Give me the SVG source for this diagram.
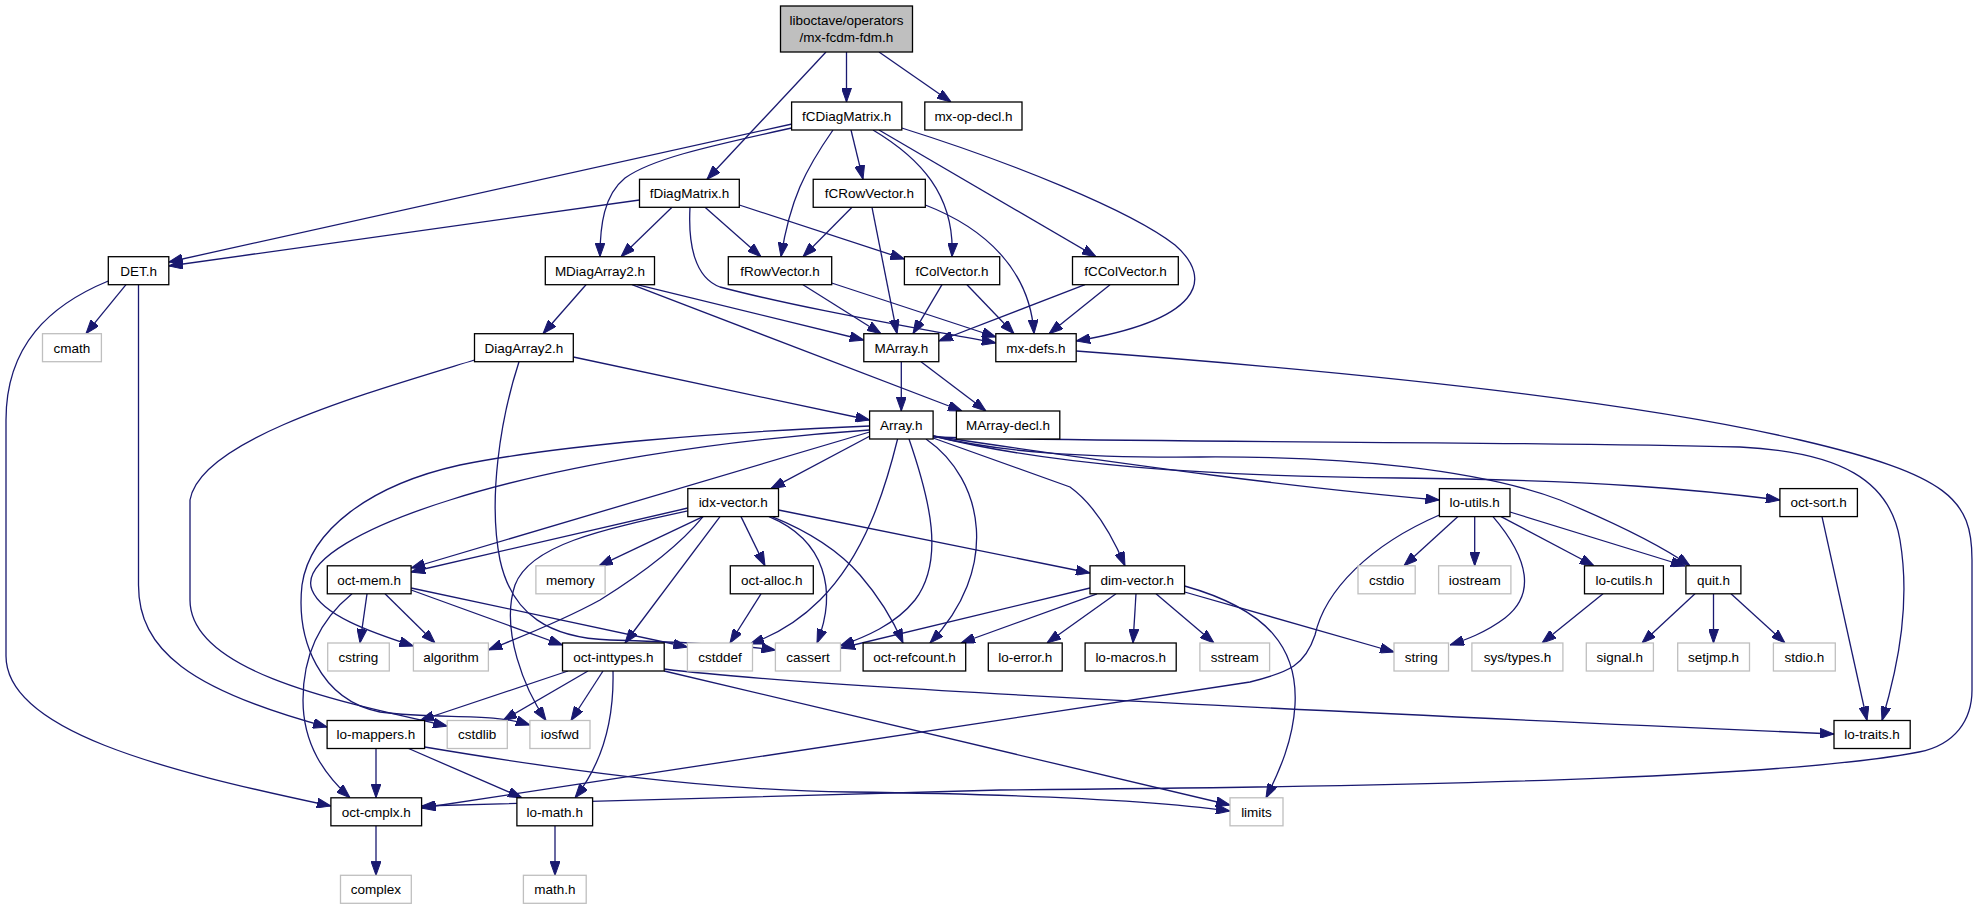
<svg xmlns="http://www.w3.org/2000/svg" width="1979" height="909" viewBox="0 0 1979 909">
<style>
.n rect{fill:#fff;stroke:#000;stroke-width:1.3}
.s rect{fill:#fff;stroke:#bfbfbf;stroke-width:1.3}
#root rect{fill:#bfbfbf}
text{font-family:"Liberation Sans",Arial,Helvetica,sans-serif;font-size:13.5px;text-anchor:middle;fill:#000}
#edges path{fill:none;stroke:#191970;stroke-width:1.3;marker-end:url(#a)}
</style>
<defs>
<marker id="a" markerUnits="userSpaceOnUse" markerWidth="14" markerHeight="10" viewBox="0 0 14 10" refX="14" refY="5" orient="auto">
<path d="M0,0 L14,5 L0,10 z" fill="#191970" stroke="#191970" stroke-width="1"/>
</marker>
</defs>
<rect width="1979" height="909" fill="#fff"/>
<g id="edges">
<path d="M826,52 L707,179.3"/>
<path d="M846.5,52 L846.5,102"/>
<path d="M879,52 L951,102"/>
<path d="M792,124 L168.8,262"/>
<path d="M791.6,128 C 700,148 650,160 625,178 C 604,195 600,225 600,256.7"/>
<path d="M833,130 C 805,170 790,200 781,256.7"/>
<path d="M851,130 L863,179.3"/>
<path d="M873,130 C 920,158 955,195 952,256.7"/>
<path d="M879,130 L1096,256.7"/>
<path d="M901.8,128 C 1010,162 1130,210 1175,245 C 1215,280 1200,320 1076.2,341"/>
<path d="M639.5,200 L168.8,266"/>
<path d="M672,207.3 L621,256.7"/>
<path d="M705,207.3 L761,256.7"/>
<path d="M739.3,205 L904.4,259"/>
<path d="M690,207.3 C 688,245 695,278 720,287 C 800,308 900,325 995.8,343"/>
<path d="M852,207.3 L803,256.7"/>
<path d="M872,207.3 L897,333.7"/>
<path d="M925.3,205 C 985,228 1030,270 1034,333.7"/>
<path d="M803,284.7 L881,333.7"/>
<path d="M831.7,283 L996,337"/>
<path d="M942,284.7 L913,333.7"/>
<path d="M967,284.7 L1014,333.7"/>
<path d="M1085,284.7 L938.8,341"/>
<path d="M1110,284.7 L1049,333.7"/>
<path d="M586,284.7 L543,333.7"/>
<path d="M637,284.7 L863.8,340"/>
<path d="M632,284.7 L962,411"/>
<path d="M573.3,357 L869.6,420"/>
<path d="M474.5,360 C 360,395 200,440 190,500 L190,600 C 190,670 330,700 447.2,726"/>
<path d="M519,361.7 C 500,420 488,500 500,560 C 512,615 550,638 610,640 C 680,642 740,645 775.4,650"/>
<path d="M126,284.7 L86,333.7"/>
<path d="M138.5,284.7 L138.5,585 C 138.5,650 190,690 327.1,727"/>
<path d="M108.3,281 C 50,305 6,345 6,420 L6,656 C 6,730 160,770 330.9,806"/>
<path d="M901.3,361.7 L901.3,411"/>
<path d="M921,361.7 L986,411"/>
<path d="M870,436 L771,488.6"/>
<path d="M869.6,432 L411.1,568"/>
<path d="M869.6,430 C 720,440 560,465 450,500 C 370,525 300,560 312,590 C 322,615 370,632 413.4,646"/>
<path d="M869.6,426 C 720,432 560,445 460,465 C 370,485 310,530 302,585 C 296,640 320,700 380,712 C 440,720 490,712 529.9,725"/>
<path d="M897.6,439 C 885,490 865,555 820,600 C 795,625 770,637 750,644"/>
<path d="M909,439 C 930,500 945,560 915,600 C 895,625 865,637 840,646"/>
<path d="M926,439 C 985,480 1000,570 930,643"/>
<path d="M933.1,438 L1070,487 C 1095,505 1112,535 1125,565.8"/>
<path d="M933.1,436 C 1150,468 1300,488 1439.4,500"/>
<path d="M933.1,436 C 1050,465 1200,476 1400,478 C 1600,480 1700,490 1779.9,500"/>
<path d="M933.1,436 C 1000,452 1080,458 1200,457 C 1350,456 1480,470 1560,500 C 1620,525 1660,545 1690,565.8"/>
<path d="M933.1,437 C 1150,443 1500,441 1740,447 C 1840,452 1890,480 1900,540 C 1910,600 1900,660 1882,720.5"/>
<path d="M687.8,508 L411.1,572"/>
<path d="M687.8,511 C 600,530 530,545 515,585 C 500,630 525,690 546,720.5"/>
<path d="M703,516.6 C 680,545 640,575 600,600 C 560,622 520,637 488.4,650"/>
<path d="M703,516.6 L599,565.8"/>
<path d="M720,516.6 L625,643"/>
<path d="M741,516.6 L765,565.8"/>
<path d="M769,516.6 C 825,540 838,590 817,643"/>
<path d="M772,516.6 C 810,532 840,552 860,575 C 880,598 893,620 903,643"/>
<path d="M778.5,510 L1090,573"/>
<path d="M1458,516.6 L1404,565.8"/>
<path d="M1474.7,516.6 L1474.7,565.8"/>
<path d="M1493,516.6 C 1530,560 1535,595 1505,618 C 1485,633 1465,640 1450,645"/>
<path d="M1501,516.6 L1594,565.8"/>
<path d="M1510,512 L1685,566"/>
<path d="M1439.4,515 C 1370,545 1325,590 1315,635 C 1305,665 1290,672 1250,682 L421.6,808"/>
<path d="M1090,588 L841,648"/>
<path d="M1097,593.8 L961,643"/>
<path d="M1116,593.8 L1047,643"/>
<path d="M1136,593.8 L1133,643"/>
<path d="M1156,593.8 L1214,643"/>
<path d="M1184.6,592 L1394,652"/>
<path d="M1184.6,586 C 1270,610 1298,650 1295,705 C 1293,740 1280,770 1266,797.8"/>
<path d="M367,593.8 L360,643"/>
<path d="M385,593.8 L435,643"/>
<path d="M411.1,590 L562.5,645"/>
<path d="M411.1,588 L687.4,647"/>
<path d="M352,593.8 C 320,620 303,655 303,700 C 303,745 325,775 350,797.8"/>
<path d="M761,593.8 L730,643"/>
<path d="M1603,593.8 L1542,643"/>
<path d="M1695,593.8 L1642,643"/>
<path d="M1713.5,593.8 L1713.5,643"/>
<path d="M1731,593.8 L1785,643"/>
<path d="M1822,516.6 L1867,720.5"/>
<path d="M568,671 L420,720.5"/>
<path d="M588,671 L503,720.5"/>
<path d="M603,671 L571,720.5"/>
<path d="M613,671 C 614,715 605,760 575,797.8"/>
<path d="M664.2,671 L1230,805"/>
<path d="M664.2,669 C 800,686 1200,706 1834,734"/>
<path d="M376,748.5 L376,797.8"/>
<path d="M408.6,748.5 L522,797.8"/>
<path d="M424.6,747 C 550,768 700,790 850,792 C 1000,794 1150,800 1230,811"/>
<path d="M376,826 L376,875.3"/>
<path d="M555,826 L555,875.3"/>
<path d="M1076.2,351 C 1400,375 1650,405 1800,440 C 1950,475 1972,500 1972,560 L1972,690 C 1972,720 1955,745 1919,752 C 1800,775 1500,786 1000,790 L421.6,806"/>
</g>
<g id="root" class="n"><rect x="780.5" y="6" width="132" height="46"/><text x="846.5" y="25">liboctave/operators</text><text x="846.5" y="41.5">/mx-fcdm-fdm.h</text></g>
<g id="fCDiagMatrix" class="n"><rect x="791.6" y="102" width="110.2" height="28"/><text x="846.7" y="120.8">fCDiagMatrix.h</text></g>
<g id="mx-op-decl" class="n"><rect x="924.8" y="102" width="97.2" height="28"/><text x="973.4" y="120.8">mx-op-decl.h</text></g>
<g id="fDiagMatrix" class="n"><rect x="639.5" y="179.3" width="99.8" height="28"/><text x="689.4" y="198.1">fDiagMatrix.h</text></g>
<g id="fCRowVector" class="n"><rect x="813.2" y="179.3" width="112.1" height="28"/><text x="869.3" y="198.1">fCRowVector.h</text></g>
<g id="DET" class="n"><rect x="108.3" y="256.7" width="60.5" height="28"/><text x="138.6" y="275.5">DET.h</text></g>
<g id="MDiagArray2" class="n"><rect x="545.3" y="256.7" width="109.2" height="28"/><text x="599.9" y="275.5">MDiagArray2.h</text></g>
<g id="fRowVector" class="n"><rect x="728.3" y="256.7" width="103.4" height="28"/><text x="780" y="275.5">fRowVector.h</text></g>
<g id="fColVector" class="n"><rect x="904.4" y="256.7" width="95.3" height="28"/><text x="952" y="275.5">fColVector.h</text></g>
<g id="fCColVector" class="n"><rect x="1072.5" y="256.7" width="105.8" height="28"/><text x="1125.4" y="275.5">fCColVector.h</text></g>
<g id="cmath" class="s"><rect x="42.5" y="333.7" width="58.9" height="28"/><text x="72" y="352.5">cmath</text></g>
<g id="DiagArray2" class="n"><rect x="474.5" y="333.7" width="98.8" height="28"/><text x="523.9" y="352.5">DiagArray2.h</text></g>
<g id="MArray" class="n"><rect x="863.8" y="333.7" width="75" height="28"/><text x="901.3" y="352.5">MArray.h</text></g>
<g id="mx-defs" class="n"><rect x="995.8" y="333.7" width="80.4" height="28"/><text x="1036" y="352.5">mx-defs.h</text></g>
<g id="Array" class="n"><rect x="869.6" y="411" width="63.5" height="28"/><text x="901.35" y="429.8">Array.h</text></g>
<g id="MArray-decl" class="n"><rect x="956.4" y="411" width="103.4" height="28"/><text x="1008.1" y="429.8">MArray-decl.h</text></g>
<g id="idx-vector" class="n"><rect x="687.8" y="488.6" width="90.7" height="28"/><text x="733.15" y="507.4">idx-vector.h</text></g>
<g id="lo-utils" class="n"><rect x="1439.4" y="488.6" width="70.6" height="28"/><text x="1474.7" y="507.4">lo-utils.h</text></g>
<g id="oct-sort" class="n"><rect x="1779.9" y="488.6" width="77.5" height="28"/><text x="1818.65" y="507.4">oct-sort.h</text></g>
<g id="oct-mem" class="n"><rect x="327.3" y="565.8" width="83.8" height="28"/><text x="369.2" y="584.6">oct-mem.h</text></g>
<g id="memory" class="s"><rect x="535.9" y="565.8" width="69.2" height="28"/><text x="570.5" y="584.6">memory</text></g>
<g id="oct-alloc" class="n"><rect x="730.3" y="565.8" width="83" height="28"/><text x="771.8" y="584.6">oct-alloc.h</text></g>
<g id="dim-vector" class="n"><rect x="1090" y="565.8" width="94.6" height="28"/><text x="1137.3" y="584.6">dim-vector.h</text></g>
<g id="cstdio" class="s"><rect x="1358" y="565.8" width="57.2" height="28"/><text x="1386.6" y="584.6">cstdio</text></g>
<g id="iostream" class="s"><rect x="1438.6" y="565.8" width="72.3" height="28"/><text x="1474.75" y="584.6">iostream</text></g>
<g id="lo-cutils" class="n"><rect x="1584.5" y="565.8" width="78.9" height="28"/><text x="1623.95" y="584.6">lo-cutils.h</text></g>
<g id="quit" class="n"><rect x="1685.9" y="565.8" width="55" height="28"/><text x="1713.4" y="584.6">quit.h</text></g>
<g id="cstring" class="s"><rect x="327.7" y="643" width="61.6" height="28"/><text x="358.5" y="661.8">cstring</text></g>
<g id="algorithm" class="s"><rect x="413.4" y="643" width="75" height="28"/><text x="450.9" y="661.8">algorithm</text></g>
<g id="oct-inttypes" class="n"><rect x="562.5" y="643" width="101.7" height="28"/><text x="613.35" y="661.8">oct-inttypes.h</text></g>
<g id="cstddef" class="s"><rect x="687.4" y="643" width="65.1" height="28"/><text x="719.95" y="661.8">cstddef</text></g>
<g id="cassert" class="s"><rect x="775.4" y="643" width="65.1" height="28"/><text x="807.95" y="661.8">cassert</text></g>
<g id="oct-refcount" class="n"><rect x="863.1" y="643" width="102.6" height="28"/><text x="914.4" y="661.8">oct-refcount.h</text></g>
<g id="lo-error" class="n"><rect x="988.3" y="643" width="73.9" height="28"/><text x="1025.25" y="661.8">lo-error.h</text></g>
<g id="lo-macros" class="n"><rect x="1085.1" y="643" width="91.1" height="28"/><text x="1130.65" y="661.8">lo-macros.h</text></g>
<g id="sstream" class="s"><rect x="1199.9" y="643" width="69.7" height="28"/><text x="1234.75" y="661.8">sstream</text></g>
<g id="string" class="s"><rect x="1394" y="643" width="54.5" height="28"/><text x="1421.25" y="661.8">string</text></g>
<g id="sys-types" class="s"><rect x="1471.9" y="643" width="91" height="28"/><text x="1517.4" y="661.8">sys/types.h</text></g>
<g id="signal" class="s"><rect x="1586.3" y="643" width="67.1" height="28"/><text x="1619.85" y="661.8">signal.h</text></g>
<g id="setjmp" class="s"><rect x="1677.7" y="643" width="71.8" height="28"/><text x="1713.6" y="661.8">setjmp.h</text></g>
<g id="stdio" class="s"><rect x="1773.4" y="643" width="61.9" height="28"/><text x="1804.35" y="661.8">stdio.h</text></g>
<g id="lo-mappers" class="n"><rect x="327.1" y="720.5" width="97.5" height="28"/><text x="375.85" y="739.3">lo-mappers.h</text></g>
<g id="cstdlib" class="s"><rect x="447.2" y="720.5" width="60.1" height="28"/><text x="477.25" y="739.3">cstdlib</text></g>
<g id="iosfwd" class="s"><rect x="529.9" y="720.5" width="60.1" height="28"/><text x="559.95" y="739.3">iosfwd</text></g>
<g id="lo-traits" class="n"><rect x="1834" y="720.5" width="76.2" height="28"/><text x="1872.1" y="739.3">lo-traits.h</text></g>
<g id="oct-cmplx" class="n"><rect x="330.9" y="797.8" width="90.7" height="28"/><text x="376.25" y="816.6">oct-cmplx.h</text></g>
<g id="lo-math" class="n"><rect x="516.9" y="797.8" width="75.7" height="28"/><text x="554.75" y="816.6">lo-math.h</text></g>
<g id="limits" class="s"><rect x="1230" y="797.8" width="53" height="28"/><text x="1256.5" y="816.6">limits</text></g>
<g id="complex" class="s"><rect x="340.5" y="875.3" width="70.8" height="28"/><text x="375.9" y="894.1">complex</text></g>
<g id="math" class="s"><rect x="523.4" y="875.3" width="62.8" height="28"/><text x="554.8" y="894.1">math.h</text></g>
</svg>
